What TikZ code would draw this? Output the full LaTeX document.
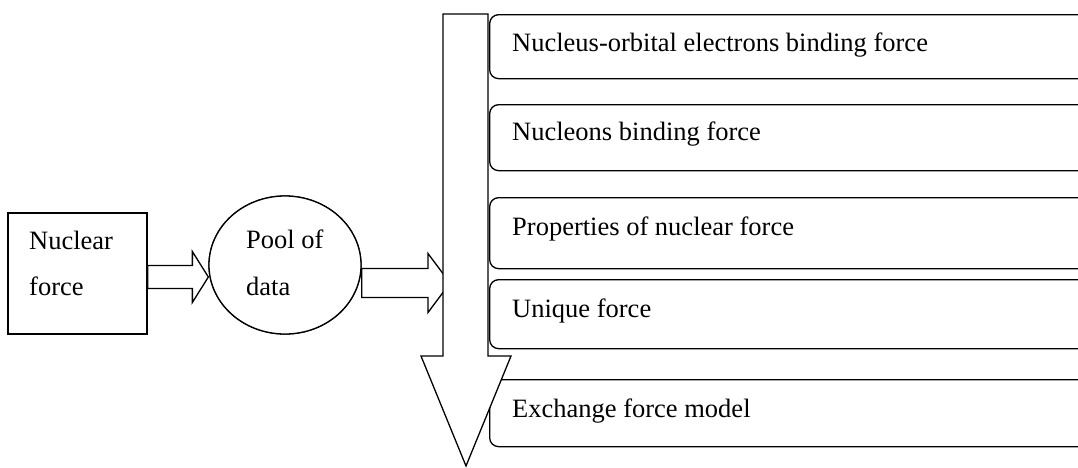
\documentclass[tikz,border=0pt]{standalone}
\usepackage{fontspec}
\setmainfont{Liberation Serif}
\usetikzlibrary{calc,shapes.geometric}

% horizontal block arrow: #1 back point, #2 tip point,
% #3 half shaft height, #4 half head height, #5 head length
\newcommand\hblockarrow[5]{%
  \draw[blk] let \p1=#1, \p2=#2 in
    (\x1,\y2+#3) -- (\x2-#5,\y2+#3) -- (\x2-#5,\y2+#4) -- (\x2,\y2)
    -- (\x2-#5,\y2-#4) -- (\x2-#5,\y2-#3) -- (\x1,\y2-#3) -- cycle;}

\begin{document}
\begin{tikzpicture}[x=1pt,y=-1pt,
  font=\fontsize{26.5}{30}\selectfont,
  ln/.style={line width=1.3pt},
  blk/.style={ln,draw=black,fill=white,line join=miter},
  srcbox/.style={ln,draw,fill=white,rectangle,inner sep=0pt,
    minimum width=139pt,minimum height=121pt},
  poolshape/.style={ln,draw,fill=white,ellipse,inner sep=0pt,
    minimum width=152pt,minimum height=138pt},
  listbox/.style={ln,draw,fill=white,rectangle,rounded corners=9pt,
    inner sep=0pt,minimum width=620pt,anchor=north west},
  txt/.style={anchor=base west,inner sep=0pt}]

\useasboundingbox (0,0) rectangle (1078,467);
\clip (0,0) rectangle (1078,467);
\fill[white] (0,0) rectangle (1078,467);

% source box and data pool
\node[srcbox] (nf) at (77.5,273.5) {};
\node[poolshape] (pool) at (285,265) {};
\coordinate (a2tip) at (450,283);

% block arrows between them
\hblockarrow{(nf.east)}{($(pool.west)+(0,12)$)}{11.5pt}{25.5pt}{16pt}
\hblockarrow{(pool.east)}{(a2tip)}{14.5pt}{29.5pt}{22pt}
\node[poolshape] (pool2) at (pool) {};

\node[txt] (nf1) at (29,249) {Nuclear};
\node[txt] (nf2) at (29,295) {force};
\node[txt] (pl1) at (246,248) {Pool of};
\node[txt] (pl2) at (246,295) {data};

% list of topics
\node[listbox,minimum height=64pt] (b1) at (489,14) {};
\node[listbox,minimum height=66pt] (b2) at (489,104) {};
\node[listbox,minimum height=71pt] (b3) at (489,197) {};
\node[listbox,minimum height=69pt] (b4) at (489,279) {};
\node[listbox,minimum height=67pt] (b5) at (489,379) {};

% downward flow arrow
\draw[blk] (443,14) coordinate (flowtop) -- (488,14) -- (488,356) -- (511,356)
  -- (466,466) coordinate (flowtip) -- (421,356) -- (443,356) -- cycle;

\node[txt] (t1) at (512,51) {Nucleus-orbital electrons binding force};
\node[txt] (t2) at (512,140) {Nucleons binding force};
\node[txt] (t3) at (512,235) {Properties of nuclear force};
\node[txt] (t4) at (512,317) {Unique force};
\node[txt] (t5) at (512,417) {Exchange force model};
\end{tikzpicture}
\end{document}
